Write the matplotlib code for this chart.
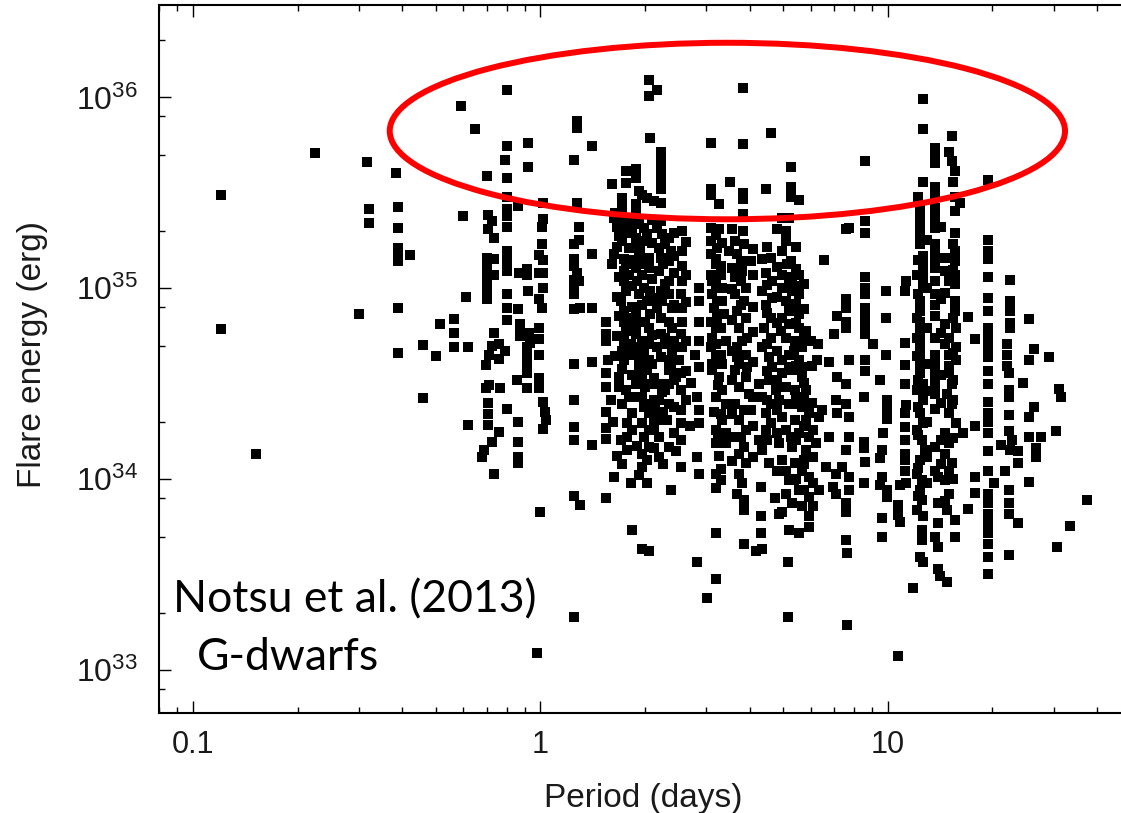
import numpy as np
import matplotlib
matplotlib.use("Agg")
import matplotlib.pyplot as plt
from matplotlib.patches import Ellipse
from matplotlib.ticker import LogLocator, FixedLocator, FixedFormatter, NullFormatter

plt.rcParams['font.family'] = ['Liberation Sans', 'DejaVu Sans']

# flares: (rotation period [days], flare energy [1e34 erg])
# periods below 1.5 d
short_flares = [
    (0.12, 31), (0.12, 6.1), (0.152, 1.35), (0.225, 51), (0.316, 46), (0.32, 26), (0.32, 22),
    (0.30, 7.3), (0.385, 40), (0.39, 26.7), (0.39, 20.7), (0.39, 16.3), (0.39, 15), (0.39, 13.9),
    (0.39, 7.85), (0.39, 4.6), (0.42, 15),
    (0.80, 110), (0.59, 90), (0.65, 68), (1.27, 75), (1.27, 69), (0.80, 56), (0.92, 58), (0.79, 47),
    (0.92, 43), (0.70, 39), (0.80, 38), (1.25, 47), (1.41, 56),
    (0.60, 24), (0.80, 30), (0.80, 26), (0.80, 24), (0.86, 27), (1.02, 28), (1.27, 28),
    (0.705, 24.1), (0.725, 22.5), (0.705, 20.4), (0.735, 18.4), (0.80, 21), (1.02, 23), (1.01, 21),
    (1.29, 21), (1.25, 17), (1.29, 18), (1.01, 17), (0.99, 15), (1.02, 14),
    (0.80, 15.7), (0.80, 14.5), (0.80, 13.4), (0.80, 12.3),
    (0.70, 14.5), (0.70, 13.4), (0.70, 12.3), (0.70, 11.3), (0.70, 10.4), (0.70, 9.6), (0.70, 8.8),
    (0.735, 14.2), (0.735, 11.8),
    (0.866, 12.1), (0.915, 12.6), (0.915, 11.8), (0.99, 12), (1.02, 12), (1.02, 10),
    (1.25, 14.2), (1.25, 13.1), (1.27, 12.0), (1.25, 11.0), (1.25, 10.2), (1.29, 10.9), (1.25, 9.3),
    (0.92, 9.7), (0.61, 9.0), (0.80, 9.3), (0.80, 7.9), (0.86, 7.8), (0.99, 8.8), (1.01, 7.9),
    (1.25, 7.8), (1.30, 7.9),
    (0.563, 6.9), (0.514, 6.5), (0.563, 5.8), (0.563, 4.9), (0.459, 5.05), (0.502, 4.4), (0.617, 4.9),
    (0.80, 6.8), (0.735, 5.85), (0.876, 6.5), (0.876, 6.1), (0.876, 5.6), (0.925, 5.85), (0.93, 5.2),
    (0.99, 6.2), (0.99, 5.4), (0.99, 4.5),
    (0.915, 4.9), (0.915, 4.5), (0.915, 4.1), (0.915, 3.8),
    (0.726, 5.0), (0.758, 5.1), (0.793, 4.7), (0.71, 4.5), (0.758, 4.25), (0.695, 3.95), (1.25, 4.0),
    (0.46, 2.65), (0.71, 3.1), (0.767, 3.0), (0.695, 3.0), (0.856, 3.3), (0.915, 3.6), (0.915, 3.0),
    (0.99, 3.4), (0.99, 3.0),
    (1.02, 2.54), (1.03, 2.25), (1.04, 2.04), (1.02, 1.84),
    (0.706, 2.5), (0.706, 2.2), (0.706, 1.92),
    (0.80, 2.34), (0.618, 1.93), (0.86, 2.0), (0.76, 1.77),
    (0.726, 1.57), (0.686, 1.42), (0.68, 1.31),
    (0.86, 1.57), (0.86, 1.31), (0.86, 1.21),
    (1.25, 2.6), (1.25, 1.88), (1.25, 1.6),
    (0.735, 1.06), (1.25, 0.82), (1.30, 0.73), (1.0, 0.67), (1.25, 0.19), (0.98, 0.123),
    (1.41, 15.1), (1.41, 7.9), (1.41, 4.1), (1.41, 1.52),
]

# periods 1.5 - 3 d
mid_flares = [
    (2.05, 124), (2.17, 110), (2.05, 102), (2.07, 61),
    (2.22, 52), (2.22, 48), (2.22, 44), (2.22, 40.6), (2.22, 37.3), (2.22, 33), (2.22, 28),
    (1.76, 41), (1.88, 42), (1.76, 35.7), (1.88, 38), (1.61, 35),
    (1.92, 32.3), (1.96, 31), (2.03, 29.8), (2.12, 28.6),
    (1.72, 29.8), (1.72, 27.5), (1.88, 27.5), (1.88, 26), (1.64, 24.9), (1.72, 24.4),
    (1.63, 23.4), (1.72, 22.5), (1.74, 20.0), (1.72, 17.7), (1.63, 15.1), (1.74, 14.2), (1.61, 13.4),
    (1.74, 12.3), (1.74, 10.9), (1.76, 9.7), (1.74, 7.6), (1.74, 6.7), (1.76, 6.0), (1.74, 5.3),
    (1.72, 4.7), (1.74, 4.2), (1.72, 3.8), (1.80, 16.3), (1.80, 11.8), (1.76, 13.4), (1.70, 8.6),
    (1.80, 7.0), (1.82, 5.1), (1.80, 4.5),
    (1.88, 23.4), (1.92, 21.6), (1.88, 18.4), (1.98, 17.7), (1.88, 16.3), (1.92, 14.5), (2.05, 14.5),
    (1.88, 12.8), (1.96, 11.8), (2.05, 12.8), (1.98, 10.1), (2.07, 9.7), (1.92, 9.3), (1.88, 7.3),
    (2.0, 6.7), (1.88, 6.2), (2.05, 6.2), (1.96, 5.3), (2.05, 5.1), (1.88, 4.9), (1.92, 4.35),
    (2.05, 4.2), (1.92, 3.87), (2.03, 19.2), (1.96, 8.2), (2.07, 7.3), (1.88, 5.75), (1.98, 20.8),
    (1.94, 15.7), (2.0, 13.4), (1.90, 10.9), (2.03, 8.6), (1.92, 6.7), (1.98, 4.7),
    (2.17, 20.8), (2.24, 19.2), (2.34, 18.4), (2.19, 16.3), (2.37, 15.7), (2.22, 14.5), (2.34, 13.9),
    (2.19, 12.3), (2.34, 10.9), (2.22, 9.7), (2.34, 9.3), (2.24, 8.6), (2.39, 7.9), (2.22, 7.0),
    (2.34, 6.7), (2.39, 6.2), (2.22, 5.75), (2.29, 5.1), (2.39, 4.7), (2.22, 4.35), (2.34, 4.2),
    (2.22, 22.5), (2.29, 17.0), (2.26, 13.4), (2.29, 10.5), (2.17, 7.9), (2.29, 5.5), (2.17, 4.9),
    (2.37, 3.87),
    (2.56, 20.0), (2.56, 15.7), (2.56, 13.1), (2.56, 10.9), (2.53, 9.3), (2.56, 7.9), (2.56, 6.7),
    (2.53, 5.75), (2.56, 4.9), (2.50, 4.2),
    (2.86, 10.1), (2.86, 8.6), (2.86, 6.7), (2.86, 5.3), (2.79, 4.5), (2.86, 3.87),
    (1.54, 6.7), (1.54, 5.75), (1.54, 5.3), (1.56, 4.2),
    (1.54, 3.6), (1.54, 3.04), (1.68, 3.45), (1.68, 3.04), (1.76, 2.92), (1.80, 2.70), (1.72, 2.49),
    (1.54, 2.25), (1.54, 1.85), (1.54, 1.62), (1.66, 1.33), (1.63, 1.03), (1.54, 0.80), (1.82, 0.95),
    (1.78, 1.96), (1.78, 1.67), (1.78, 1.42), (1.84, 2.21), (1.84, 1.81), (1.83, 0.54), (1.96, 0.43),
    (2.05, 0.42), (2.03, 0.95), (1.96, 1.16), (2.03, 1.26), (1.96, 1.36), (2.05, 1.48), (1.98, 1.67),
    (2.05, 1.81), (1.96, 1.96), (2.05, 2.21), (1.98, 2.39), (2.1, 2.49), (1.96, 2.70), (2.0, 3.04),
    (2.1, 3.17), (1.96, 3.45), (2.03, 3.72),
    (2.19, 1.31), (2.19, 1.67), (2.19, 2.04), (2.19, 2.59), (2.19, 3.17), (2.34, 3.72), (2.34, 3.17),
    (2.34, 2.49), (2.32, 2.04), (2.34, 1.48), (2.37, 0.88), (2.53, 1.16), (2.53, 1.60), (2.53, 1.96),
    (2.53, 2.30), (2.53, 2.92), (2.53, 3.58), (2.24, 2.86), (2.83, 2.70), (2.86, 2.30), (2.86, 1.96),
    (2.83, 1.31), (2.86, 1.07), (2.83, 0.37),
    (1.88, 3.17), (1.88, 2.70), (2.14, 2.30), (2.12, 1.81), (2.29, 2.92), (2.45, 3.45),
    (1.66, 21.0), (1.68, 18.8), (1.66, 16.5), (1.68, 11.5), (1.66, 9.0), (1.68, 7.2), (1.66, 5.6),
    (1.64, 4.4), (1.84, 22.0), (1.84, 19.5), (1.84, 14.0), (1.84, 10.3), (1.84, 8.0), (1.84, 6.4),
    (1.84, 4.6), (1.84, 3.5), (2.10, 22.8), (2.10, 17.2), (2.10, 11.2), (2.10, 8.9), (2.10, 5.7),
    (2.10, 4.0), (2.12, 3.4), (2.12, 2.6), (2.12, 2.0), (2.12, 1.45),
    (2.42, 19.5), (2.42, 14.8), (2.42, 12.0), (2.42, 8.2), (2.42, 5.3), (2.42, 3.3), (2.42, 2.4),
    (2.42, 1.75), (2.62, 17.5), (2.62, 11.7), (2.62, 8.5), (2.62, 5.3), (2.62, 3.7), (2.62, 2.6),
    (1.60, 2.6), (1.62, 2.0), (1.70, 1.6), (1.72, 1.2), (1.90, 1.5), (1.92, 1.05), (2.26, 2.25),
    (2.26, 1.2), (2.45, 1.4), (2.70, 1.9), (2.72, 3.2),
]

# periods 3 - 8 d
slow_flares = [
    (3.84, 112), (4.6, 65), (3.1, 58), (3.84, 57), (5.25, 43), (5.25, 34), (5.25, 30), (5.55, 28.9),
    (3.51, 36), (3.09, 33), (3.09, 31), (4.45, 33), (3.84, 31.6), (3.84, 29.3), (3.26, 27.5),
    (3.09, 20.8), (3.26, 20.4), (3.09, 17.7), (3.34, 17.3), (3.09, 15.1), (3.49, 15.7), (3.30, 13.1),
    (3.09, 11.8), (3.30, 11.8), (3.12, 10.9), (3.34, 10.1), (3.12, 9.3), (3.34, 8.6), (3.16, 7.9),
    (3.38, 7.3), (3.09, 6.7), (3.30, 6.2), (3.12, 5.5), (3.41, 5.3), (3.09, 4.9), (3.30, 4.5),
    (3.12, 4.0), (3.23, 16.3), (3.19, 13.4), (3.23, 8.6), (3.23, 7.0), (3.19, 5.1), (3.34, 4.0),
    (3.84, 24.4), (3.84, 20.0), (3.64, 17.7), (3.85, 17.0), (4.03, 13.9), (3.68, 15.1), (3.81, 12.3),
    (3.64, 11.4), (3.90, 10.1), (3.64, 9.3), (3.85, 8.6), (3.68, 7.6), (3.90, 7.0), (3.73, 6.2),
    (3.94, 5.5), (3.68, 4.9), (3.90, 4.5), (3.73, 4.0), (3.94, 3.87), (3.77, 13.9), (3.77, 10.9),
    (3.77, 8.2), (3.81, 5.3), (3.68, 4.35),
    (4.35, 14.2), (4.60, 14.5), (4.45, 12.1), (4.65, 10.9), (4.35, 9.7), (4.65, 8.9), (4.45, 8.2),
    (4.60, 7.0), (4.40, 6.2), (4.60, 5.5), (4.35, 4.9), (4.55, 4.35), (4.65, 3.87),
    (4.97, 23.4), (5.2, 23.4), (5.08, 20.0), (5.08, 17.7), (4.97, 15.7), (5.25, 13.9), (4.97, 11.8),
    (5.3, 11.4), (5.55, 11.8), (4.97, 10.1), (5.3, 9.7), (5.55, 9.3), (5.08, 8.6), (5.36, 7.9),
    (5.55, 7.3), (4.97, 7.0), (5.2, 6.5), (5.55, 6.2), (5.08, 5.5), (5.42, 5.3), (5.67, 4.9),
    (5.2, 4.5), (5.55, 4.2), (5.2, 3.87), (5.14, 13.4), (5.2, 10.9), (5.2, 7.6), (4.92, 6.0),
    (5.36, 4.7), (5.67, 3.87), (4.97, 4.2),
    (5.8, 6.0), (6.0, 5.3), (6.3, 5.1), (6.25, 4.2), (6.77, 4.1), (7.0, 5.75), (7.15, 7.2),
    (7.6, 7.9), (7.6, 6.7), (7.6, 6.2), (7.6, 8.8), (7.6, 20.4), (6.56, 14.1),
    (3.02, 0.24), (3.19, 0.30), (3.19, 0.52), (3.19, 0.90), (3.19, 1.07), (3.30, 1.13), (3.30, 0.99),
    (3.12, 3.72), (3.26, 3.45), (3.34, 2.92), (3.19, 2.70), (3.41, 2.49), (3.16, 2.25), (3.34, 2.04),
    (3.19, 1.81), (3.41, 1.74), (3.19, 1.54), (3.26, 1.33),
    (3.64, 3.72), (3.90, 3.45), (3.73, 3.04), (3.98, 2.81), (3.64, 2.49), (3.85, 2.30), (3.73, 2.04),
    (3.90, 1.81), (3.64, 1.67), (3.85, 1.48), (3.73, 1.36), (3.90, 1.21), (3.73, 1.07), (3.81, 0.95),
    (3.68, 0.84), (3.85, 0.78), (3.85, 0.69), (3.85, 0.46),
    (4.16, 0.42), (4.35, 0.43), (4.32, 0.91), (4.32, 0.64), (4.32, 0.52), (4.26, 1.60), (4.35, 1.42),
    (4.45, 1.81), (4.45, 2.21), (4.35, 2.70), (4.26, 3.17), (4.55, 3.30), (4.60, 2.49), (4.60, 1.96),
    (4.55, 1.21), (4.72, 0.80), (4.86, 0.66),
    (4.97, 3.58), (5.3, 3.72), (5.67, 3.45), (5.08, 3.04), (5.42, 2.92), (5.8, 2.92), (4.86, 2.59),
    (5.2, 2.49), (5.67, 2.39), (4.97, 2.12), (5.42, 2.04), (5.8, 2.04), (5.08, 1.81), (5.55, 1.74),
    (5.93, 1.67), (4.86, 1.54), (5.3, 1.48), (5.8, 1.42), (4.97, 1.26), (5.42, 1.21), (5.08, 1.11),
    (5.67, 1.11), (5.2, 0.99), (5.93, 1.03), (5.08, 0.84), (5.55, 0.88), (5.93, 0.81), (5.3, 0.75),
    (5.67, 0.72), (4.97, 0.67), (5.93, 0.64), (5.2, 0.54), (5.55, 0.52), (5.93, 0.56), (5.16, 0.37),
    (5.16, 0.19),
    (6.2, 1.54), (6.34, 2.12), (6.48, 2.30), (6.78, 1.67), (6.63, 1.16), (7.08, 1.07), (7.4, 1.16),
    (6.34, 0.88), (6.93, 0.91), (7.08, 0.84), (7.57, 1.42), (7.57, 0.75), (7.57, 0.67), (7.16, 3.45),
    (7.57, 3.17), (7.08, 2.59), (7.57, 2.49), (7.16, 2.21), (7.57, 0.48), (7.65, 0.41), (7.65, 0.172),
    (3.43, 1.54), (4.03, 2.30), (3.77, 1.67), (5.25, 1.67), (5.36, 0.99), (5.73, 1.26), (5.42, 2.49),
    (5.93, 2.21), (4.75, 2.92),
    (7.74, 2.12), (7.74, 1.67), (7.74, 1.03), (7.74, 0.88),
    (3.20, 19.0), (3.20, 14.2), (3.20, 10.4), (3.20, 6.2), (3.20, 4.4), (3.25, 3.1), (3.30, 2.2),
    (3.25, 1.6), (3.55, 20.5), (3.55, 12.8), (3.55, 9.9), (3.55, 6.8), (3.55, 4.7), (3.55, 3.3),
    (3.55, 2.2), (3.55, 1.25), (4.10, 16.0), (4.10, 11.8), (4.10, 8.0), (4.10, 5.9), (4.10, 4.1),
    (4.10, 2.7), (4.10, 1.9), (4.10, 1.3), (4.50, 16.5), (4.50, 10.4), (4.50, 7.4), (4.50, 5.1),
    (4.50, 3.7), (4.50, 2.6), (4.50, 1.6), (4.80, 20.5), (4.80, 13.0), (4.80, 9.0), (4.80, 6.6),
    (4.80, 4.7), (4.80, 3.3), (4.80, 2.3), (4.80, 1.75), (4.80, 1.1),
    (5.45, 16.5), (5.45, 12.6), (5.45, 10.3), (5.45, 8.3), (5.45, 6.6), (5.45, 3.9), (5.45, 2.7),
    (5.45, 1.6), (5.45, 1.0), (5.75, 10.5), (5.75, 7.8), (5.75, 5.5), (5.75, 3.2), (5.75, 2.6),
    (5.75, 1.9), (5.75, 1.2), (5.75, 0.88), (6.05, 3.9), (6.05, 2.5), (6.1, 1.8), (6.1, 1.3),
    (6.1, 0.95), (6.1, 0.72),
]

# periods above 8 d
long_flares = [
    (12.6, 98), (12.6, 68), (15.3, 63), (13.7, 54.5), (13.7, 49.9), (13.7, 45.5), (15.0, 52),
    (15.3, 46.4), (15.6, 41.2), (8.6, 46.7), (12.6, 36), (13.7, 34), (13.7, 30), (19.4, 36.9),
    (15.6, 30), (16.1, 28), (15.6, 25.4),
    (12.4, 26.4), (12.4, 23.7), (12.4, 21.2), (12.4, 19.0), (12.4, 17.0),
    (13.7, 26.4), (13.7, 23.4), (13.7, 20.8),
    (8.6, 22.5), (8.6, 19.5), (7.74, 20.8),
    (15.6, 19.5), (19.4, 17.9), (19.4, 15.7), (19.4, 14.2),
    (13.7, 17.0), (13.7, 15.4), (13.7, 13.9),
    (14.6, 14.5), (15.6, 15.7), (15.6, 13.9),
    (12.6, 14.8), (12.6, 13.5), (12.6, 12.3), (12.6, 11.1), (12.6, 10.1),
    (12.1, 11.8), (11.3, 10.9), (11.2, 9.7),
    (13.7, 12.8), (13.7, 10.9),
    (14.6, 12.3), (15.0, 10.9), (15.6, 11.8), (15.6, 10.5),
    (19.4, 11.4), (22.5, 11.0),
    (8.6, 11.4), (8.6, 10.1), (8.6, 9.3), (9.85, 9.7),
    (13.7, 9.3), (13.7, 8.2), (14.6, 9.5), (15.6, 8.6), (15.6, 7.6),
    (19.4, 8.9), (19.4, 7.6),
    (22.5, 8.6), (22.5, 7.6), (22.5, 6.6), (22.5, 6.2),
    (8.6, 7.9), (8.6, 7.3), (8.6, 6.5), (8.6, 5.75),
    (9.85, 7.0), (17.0, 7.1),
    (12.4, 8.6), (12.4, 7.6), (12.4, 6.7), (12.4, 6.0), (12.4, 5.3), (12.4, 4.7), (12.4, 4.2),
    (12.4, 3.8), (12.1, 7.0), (12.1, 5.5), (12.1, 4.4),
    (13.7, 7.2), (13.7, 5.5), (13.7, 4.5), (13.7, 3.95),
    (14.6, 6.5), (15.7, 6.2), (15.0, 5.5), (14.6, 5.1), (15.7, 4.9), (15.0, 4.5), (15.7, 4.2),
    (15.0, 3.9),
    (17.8, 5.4),
    (19.4, 6.2), (19.4, 5.5), (19.4, 4.9), (19.4, 4.35), (19.4, 3.7),
    (22.0, 5.1), (22.0, 4.5), (22.0, 3.9),
    (25.5, 6.9), (26.4, 4.8), (25.5, 4.2), (29.0, 4.35),
    (11.2, 5.2), (11.2, 3.95), (9.9, 4.5), (9.03, 5.1), (8.6, 4.2), (8.6, 3.7), (7.74, 4.2),
    (8.54, 2.70), (8.54, 1.57), (8.54, 1.45), (8.6, 1.23), (8.54, 0.95),
    (9.48, 3.30), (9.95, 2.59), (9.95, 2.30), (9.95, 2.08), (9.71, 1.74), (9.59, 1.42), (9.48, 1.29),
    (9.59, 1.03), (9.48, 0.93), (9.95, 0.88), (9.95, 0.81), (9.59, 0.63), (9.59, 0.50),
    (10.7, 0.118), (10.7, 0.73), (10.7, 0.65), (10.8, 0.60),
    (11.2, 3.17), (11.3, 2.44), (11.2, 2.21), (11.2, 1.88), (11.2, 1.60), (11.2, 1.36), (11.2, 1.26),
    (11.2, 1.11), (10.8, 0.93), (11.3, 0.95),
    (11.8, 0.27),
    (12.4, 3.58), (12.6, 3.17), (12.1, 2.92), (12.6, 2.59), (12.4, 2.21), (12.6, 1.96), (12.1, 1.81),
    (12.5, 1.60), (12.8, 1.42), (12.4, 1.26), (12.1, 1.07), (12.5, 0.99), (12.4, 0.88), (12.5, 0.78),
    (12.1, 0.69), (12.6, 0.64), (12.5, 0.54), (12.5, 0.48), (12.4, 0.39), (12.6, 0.37),
    (13.7, 3.72), (13.7, 3.45), (13.7, 3.17), (13.7, 2.81), (13.7, 2.34),
    (13.7, 1.48), (13.7, 1.11), (13.9, 1.03), (13.9, 0.75), (13.9, 0.59), (13.7, 0.50), (13.9, 0.44),
    (13.9, 0.34), (14.1, 0.31), (14.8, 0.29),
    (15.0, 3.58), (15.3, 3.17), (14.8, 2.81), (15.3, 2.49), (15.0, 2.21), (15.7, 1.96), (14.6, 1.74),
    (16.5, 1.74), (15.0, 1.54), (14.6, 1.36), (15.3, 1.21), (15.0, 1.11), (14.6, 0.99), (15.0, 0.84),
    (14.6, 0.77), (14.8, 0.69),
    (15.6, 0.61), (15.6, 0.50), (17.0, 0.70),
    (17.8, 1.90), (17.8, 1.03), (17.8, 0.85),
    (19.4, 3.17), (19.4, 2.54), (19.4, 2.21), (19.4, 2.0), (19.4, 1.74), (19.4, 1.40), (19.4, 1.11),
    (19.4, 0.84), (19.4, 0.75), (19.4, 0.66), (19.4, 0.58), (19.4, 0.52), (19.4, 0.46), (19.4, 0.39),
    (19.4, 0.32),
    (20.2, 0.95), (21.8, 1.11),
    (22.3, 3.58), (22.3, 2.92), (22.3, 2.70), (22.3, 2.17), (22.3, 1.78), (22.8, 1.60), (22.5, 1.42),
    (23.7, 1.40), (23.7, 1.21), (22.3, 0.88), (22.3, 0.75), (22.3, 0.66), (23.7, 0.59), (22.3, 0.40),
    (21.2, 1.51), (24.5, 3.2), (26.4, 2.39), (25.5, 2.13), (25.5, 1.67), (27.6, 1.67),
    (26.7, 1.45), (26.7, 1.31), (25.5, 0.97), (31.0, 2.98), (31.5, 2.70), (30.5, 1.78),
    (37.4, 0.78), (33.5, 0.57), (30.6, 0.44),
    (12.2, 30), (12.2, 14.0), (12.2, 9.3), (12.2, 3.3), (12.2, 2.4), (12.2, 1.7), (12.2, 1.15),
    (12.2, 0.82), (13.0, 18.0), (13.0, 10.0), (13.0, 6.2), (13.0, 4.0), (13.0, 2.9), (13.0, 2.0),
    (13.0, 1.3), (13.0, 0.95), (14.2, 21.0), (14.2, 8.8), (14.2, 5.8), (14.2, 3.5), (14.2, 2.5),
    (14.2, 1.6), (14.2, 1.2), (15.4, 36), (15.4, 17.0), (15.4, 12.5), (15.4, 7.0), (15.4, 4.6),
    (15.4, 3.3), (15.4, 2.6), (15.4, 1.65), (15.4, 1.0),
]

x_ticks = [0.1, 1, 10]
x_ticklabels = ['0.1', '1', '10']
energy_unit = 1e34

W, H = 1121, 813
fig = plt.figure(figsize=(W / 100, H / 100), dpi=100)
# axes box in pixels: left 159, right 1123 (right spine off canvas), top 5, bottom 713
ax = fig.add_axes([159 / W, 1 - 713 / H, (1123 - 159) / W, (713 - 5) / H])

for group in (short_flares, mid_flares, slow_flares, long_flares):
    pts = np.array(group, dtype=float)
    ax.scatter(pts[:, 0], pts[:, 1] * energy_unit, marker='s', s=54, c='black',
               linewidths=0, zorder=3)

ax.set_xscale('log')
ax.set_yscale('log')
ax.set_xlim(0.0798, 47.5)
ax.set_ylim(5.96e32, 3.05e36)

ax.xaxis.set_major_locator(FixedLocator(x_ticks))
ax.xaxis.set_major_formatter(FixedFormatter(x_ticklabels))
ax.xaxis.set_minor_locator(LogLocator(base=10, subs=np.arange(2, 10) * 1.0, numticks=20))
ax.xaxis.set_minor_formatter(NullFormatter())
ax.yaxis.set_major_locator(LogLocator(base=10, numticks=10))
ax.yaxis.set_minor_locator(LogLocator(base=10, subs=[2.0, 5.0, 8.0], numticks=20))
ax.yaxis.set_minor_formatter(NullFormatter())

ax.tick_params(which='both', direction='in', top=True, right=False, width=1.0, color='black')
ax.tick_params(which='major', length=8.5, labelcolor='#1a1a1a')
ax.tick_params(axis='x', which='major', pad=12, labelsize=22)
ax.tick_params(axis='y', which='major', pad=15, labelsize=23)
ax.tick_params(which='minor', length=4.5)
for side in ('left', 'bottom', 'top'):
    ax.spines[side].set_linewidth(1.5)
ax.spines['right'].set_visible(False)

ax.set_xlabel('Period (days)', fontsize=24, color='#1a1a1a')
ax.xaxis.set_label_coords(0.502, -0.099)
ax.set_ylabel('Flare energy (erg)', fontsize=24, color='#1a1a1a')
ax.yaxis.set_label_coords(-0.115, 0.506)

ax.text(0.0145, 0.1427, 'Notsu et al. (2013)', transform=ax.transAxes, fontsize=32,
        family=['Lato', 'DejaVu Sans'], va='baseline', ha='left', zorder=4)
ax.text(0.0395, 0.0607, 'G-dwarfs', transform=ax.transAxes, fontsize=32,
        family=['Lato', 'DejaVu Sans'], va='baseline', ha='left', zorder=4)

ring = Ellipse((0.5896, 0.822), 0.7005, 0.2493, transform=ax.transAxes, fill=False,
               edgecolor='#ff0000', linewidth=4.3, clip_on=False, zorder=5)
ax.add_patch(ring)

fig.savefig('out.png', dpi=100)
